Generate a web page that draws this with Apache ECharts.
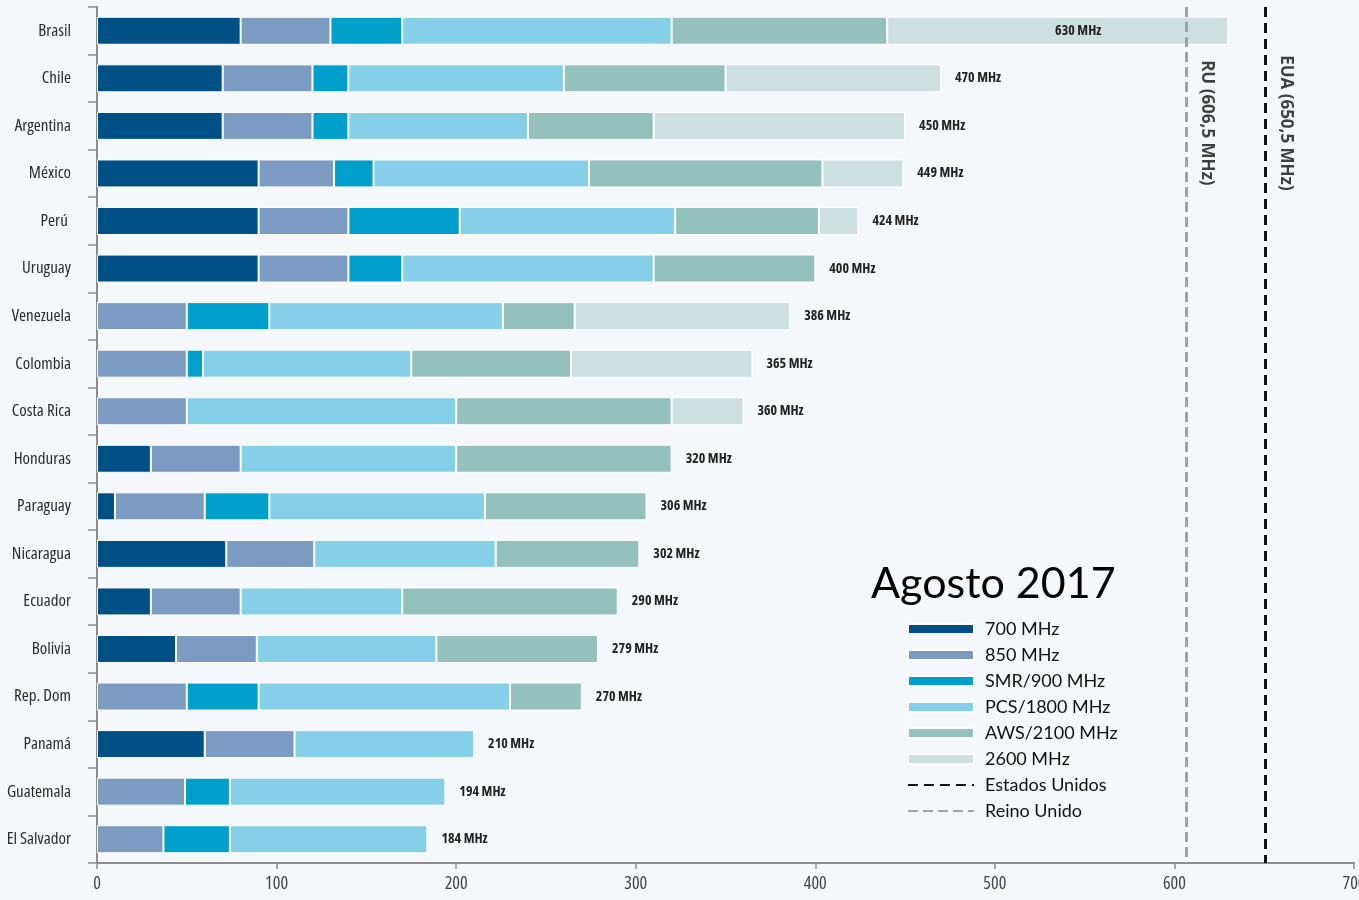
<!DOCTYPE html>
<html>
<head>
<meta charset="utf-8">
<script src="https://cdn.jsdelivr.net/npm/echarts@6/dist/echarts.min.js"></script>
<style>
  html, body { margin: 0; padding: 0; background: #f5f8fa; }
  #chart { width: 1359px; height: 900px; }
</style>
</head>
<body>
<div id="chart"></div>
<script>
// Spectrum assigned per country (MHz), by band
const categories = ['Brasil', 'Chile', 'Argentina', 'México', 'Perú ', 'Uruguay', 'Venezuela', 'Colombia',
  'Costa Rica', 'Honduras', 'Paraguay', 'Nicaragua', 'Ecuador', 'Bolivia', 'Rep. Dom', 'Panamá',
  'Guatemala', 'El Salvador'];

const band700     = [80, 70, 70, 90, 90, 90, 0, 0, 0, 30, 10, 72, 30, 44, 0, 60, 0, 0];
const band850     = [50, 50, 50, 42, 50, 50, 50, 50, 50, 50, 50, 49, 50, 45, 50, 50, 49, 37];
const bandSMR900  = [40, 20, 20, 22, 62, 30, 46, 9, 0, 0, 36, 0, 0, 0, 40, 0, 25, 37];
const bandPCS1800 = [150, 120, 100, 120, 120, 140, 130, 116, 150, 120, 120, 101, 90, 100, 140, 100, 120, 110];
const bandAWS2100 = [120, 90, 70, 130, 80, 90, 40, 89, 120, 120, 90, 80, 120, 90, 40, 0, 0, 0];
const band2600    = [190, 120, 140, 45, 22, 0, 120, 101, 40, 0, 0, 0, 0, 0, 0, 0, 0, 0];

const bandNames = ['700 MHz', '850 MHz', 'SMR/900 MHz', 'PCS/1800 MHz', 'AWS/2100 MHz', '2600 MHz'];
const bandColors = ['#005088', '#7c9bc3', '#009fcc', '#86cfe9', '#95c1bd', '#cce0df'];
const bands = [band700, band850, bandSMR900, bandPCS1800, bandAWS2100, band2600];

// Reference totals for the United States and the United Kingdom
const usaTotal = 650.5;
const ukTotal = 606.5;

const xTicks = { min: 0, max: 700, interval: 100 };

const totals = categories.map((_, i) => bands.reduce((s, b) => s + b[i], 0));

// Narrow face of Open Sans (variable width axis)
const narrow = { fontFamily: "'Open Sans'", fontStyle: 'condensed' };

const bandSeries = bands.map((arr, k) => ({
  name: bandNames[k],
  type: 'bar',
  stack: 'total',
  barWidth: 28,
  itemStyle: { color: bandColors[k], borderColor: '#ffffff', borderWidth: 1 },
  data: arr.map(v => (v > 0 ? v : '-'))
}));

// Zero-length bar at the end of each stack carries the total label
const totalSeries = {
  name: 'total',
  type: 'bar',
  stack: 'total',
  barWidth: 28,
  itemStyle: { color: 'rgba(0,0,0,0)' },
  label: {
    show: true,
    position: 'right',
    distance: 14,
    fontFamily: narrow.fontFamily,
    fontStyle: narrow.fontStyle,
    fontWeight: 'bold',
    fontSize: 14,
    color: '#222',
    formatter: p => totals[p.dataIndex] + ' MHz'
  },
  data: totals.map((t, i) => (i === 0
    ? { value: 0, label: { position: 'left', distance: 127 } }
    : 0))
};

const refLine = (name, value, color, dash) => ({
  name: name,
  type: 'line',
  data: [],
  symbol: 'none',
  itemStyle: { color: 'rgba(0,0,0,0)' },
  lineStyle: { color: color, width: 3, type: dash },
  markLine: {
    silent: true,
    symbol: ['none', 'none'],
    label: { show: false },
    lineStyle: { color: color, width: 3, type: dash },
    data: [{ xAxis: value }]
  }
});

const refLabel = (text, value) => ({
  type: 'scatter',
  symbolSize: 0,
  silent: true,
  data: [[value, 'Argentina']],
  label: {
    show: true,
    position: 'inside',
    rotate: -90,
    offset: [-3, -21],
    formatter: text,
    fontFamily: "'Open Sans'",
    fontWeight: 'bold',
    fontSize: 17,
    color: '#111'
  }
});

const chart = echarts.init(document.getElementById('chart'));
chart.setOption({
  backgroundColor: '#f5f8fa',
  animation: false,
  title: {
    text: 'Agosto 2017',
    left: 866,
    top: 558,
    textStyle: { fontFamily: 'Lato', fontSize: 43, fontWeight: 'normal', color: '#000' }
  },
  legend: {
    orient: 'vertical',
    left: 907,
    top: 619,
    padding: 0,
    itemWidth: 66,
    itemHeight: 10,
    itemGap: 6,
    data: bandNames.map(n => ({ name: n, icon: 'rect' })).concat([
      { name: 'Estados Unidos', itemStyle: { opacity: 0 } },
      { name: 'Reino Unido', itemStyle: { opacity: 0 } }
    ]),
    textStyle: { fontFamily: 'Lato', fontSize: 18, color: '#111', lineHeight: 20, padding: [0, 0, 0, 6] }
  },
  grid: { left: 97, right: 5, top: 7, bottom: 37, outerBoundsMode: 'none' },
  xAxis: {
    type: 'value',
    min: xTicks.min,
    max: xTicks.max,
    interval: xTicks.interval,
    splitLine: { show: false },
    axisLine: { show: true, lineStyle: { color: '#8c8c8c', width: 2 } },
    axisTick: { show: true, length: 6, lineStyle: { color: '#8c8c8c', width: 1.5 } },
    axisLabel: { fontFamily: narrow.fontFamily, fontStyle: narrow.fontStyle, fontSize: 18, color: '#444', margin: 12 }
  },
  yAxis: {
    type: 'category',
    inverse: true,
    data: categories,
    axisLine: { show: true, lineStyle: { color: '#8c8c8c', width: 2 } },
    axisTick: { show: true, length: 9, lineStyle: { color: '#8c8c8c', width: 1.5 } },
    axisLabel: { fontFamily: narrow.fontFamily, fontStyle: narrow.fontStyle, fontSize: 17, color: '#2a2a2a', margin: 26 }
  },
  series: bandSeries.concat([
    totalSeries,
    refLine('Estados Unidos', usaTotal, '#111111', [10, 6]),
    refLine('Reino Unido', ukTotal, '#a3a3a3', [10, 5]),
    refLabel('EUA (650,5 MHz)', usaTotal),
    refLabel('RU (606,5 MHz)', ukTotal)
  ])
});
</script>
</body>
</html>
